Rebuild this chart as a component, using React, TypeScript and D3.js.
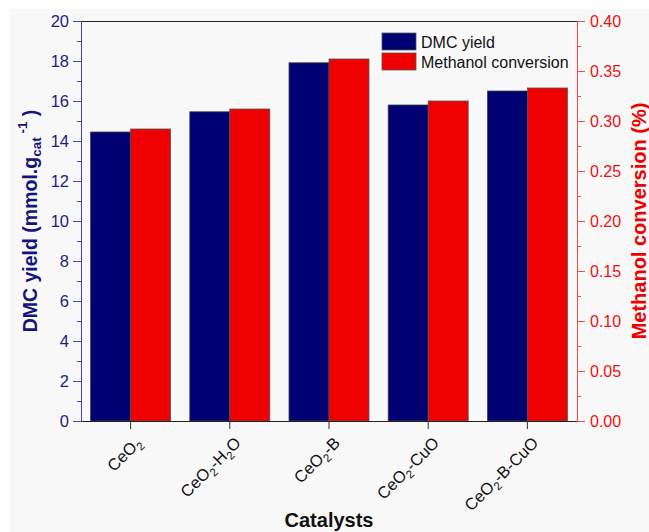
import React from "react";
import * as d3 from "d3";

// Catalyst names: digits are drawn as subscripts
const categories = ["CeO2", "CeO2-H2O", "CeO2-B", "CeO2-CuO", "CeO2-B-CuO"];
const dmcYield = [14.45, 15.46, 17.91, 15.8, 16.5];
const methanolConversion = [0.292, 0.312, 0.362, 0.32, 0.333];
const leftTicks = [0, 2, 4, 6, 8, 10, 12, 14, 16, 18, 20];
const rightTicks = [0, 0.05, 0.1, 0.15, 0.2, 0.25, 0.3, 0.35, 0.4];
const seriesKeys = ["dmc", "meoh"];
const seriesNames = ["DMC yield", "Methanol conversion"];

const W = 649;
const H = 532;
const M = { left: 81, right: 577, top: 21, bottom: 421 };
const BLUE = "#000073";
const RED = "#ee0000";
const FONT = "'Liberation Sans', Arial, sans-serif";

function chemParts(label: string) {
  const parts: { t: string; sub: boolean }[] = [];
  const re = /(\d+)|([^\d]+)/g;
  let m;
  while ((m = re.exec(label))) {
    if (m[1]) parts.push({ t: m[1], sub: true });
    else parts.push({ t: m[2], sub: false });
  }
  return parts;
}

export default function App() {
  const x = d3.scaleBand<string>().domain(categories).range([M.left, M.right]).padding(0);
  const inner = d3
    .scaleBand<string>()
    .domain(seriesKeys)
    .range([0, x.bandwidth()])
    .paddingInner(0)
    .paddingOuter(0.24);
  const yL = d3.scaleLinear().domain([0, 20]).range([M.bottom, M.top]);
  const yR = d3.scaleLinear().domain([0, 0.4]).range([M.bottom, M.top]);

  const leftMinor = d3.range(1, 20, 2);
  const rightMinor = d3.range(0.025, 0.4, 0.05);
  const midY = (M.top + M.bottom) / 2;

  return (
    <svg
      width={W}
      height={H}
      style={{ position: "absolute", left: 0, top: 0, fontFamily: FONT }}
    >
      <rect x={0} y={0} width={W} height={H} fill="#ffffff" />
      <rect x={10} y={9} width={W - 10} height={H - 9} fill="#f8f8f8" />

      {/* bars */}
      {categories.map((c, i) => (
        <g key={c}>
          <rect
            x={x(c)! + inner("dmc")!}
            y={yL(dmcYield[i])}
            width={inner.bandwidth()}
            height={yL(0) - yL(dmcYield[i])}
            fill={BLUE}
            stroke="#444"
            strokeWidth={0.8}
          />
          <rect
            x={x(c)! + inner("meoh")!}
            y={yR(methanolConversion[i])}
            width={inner.bandwidth()}
            height={yR(0) - yR(methanolConversion[i])}
            fill={RED}
            stroke="#555"
            strokeWidth={0.8}
          />
        </g>
      ))}

      {/* frame top and bottom */}
      <line x1={M.left} x2={M.right} y1={M.top + 0.5} y2={M.top + 0.5} stroke="#222" strokeWidth={1} />
      <line x1={M.left} x2={M.right} y1={M.bottom + 0.5} y2={M.bottom + 0.5} stroke="#222" strokeWidth={1} />

      {/* x axis ticks and labels */}
      {categories.map((c) => {
        const cx = x(c)! + x.bandwidth() / 2;
        const parts = chemParts(c);
        return (
          <g key={"xt" + c}>
            <line x1={cx} x2={cx} y1={M.bottom} y2={M.bottom + 8} stroke="#333" strokeWidth={1} />
            <text
              transform={`translate(${cx + 12},${M.bottom + 23}) rotate(-45)`}
              textAnchor="end"
              fontSize={16.5}
              fill="#111"
            >
              {parts.map((p, k) =>
                p.sub ? (
                  <tspan key={k} fontSize={11.5} dy={4}>
                    {p.t}
                  </tspan>
                ) : (
                  <tspan key={k} dy={k > 0 && parts[k - 1].sub ? -4 : 0}>
                    {p.t}
                  </tspan>
                )
              )}
            </text>
          </g>
        );
      })}

      {/* left axis */}
      <line x1={M.left + 0.5} x2={M.left + 0.5} y1={M.top} y2={M.bottom + 1} stroke="#4545a8" strokeWidth={1} />
      {leftTicks.map((t) => (
        <g key={"l" + t}>
          <line x1={M.left - 8} x2={M.left} y1={yL(t) + 0.5} y2={yL(t) + 0.5} stroke="#4545a8" />
          <text x={M.left - 12} y={yL(t) + 6} textAnchor="end" fontSize={16.5} fill="#1c1c86">
            {t}
          </text>
        </g>
      ))}
      {leftMinor.map((t) => (
        <line key={"lm" + t} x1={M.left - 4} x2={M.left} y1={yL(t) + 0.5} y2={yL(t) + 0.5} stroke="#4545a8" />
      ))}

      {/* right axis */}
      <line x1={M.right + 0.5} x2={M.right + 0.5} y1={M.top} y2={M.bottom + 1} stroke="#ff4444" strokeWidth={1} />
      {rightTicks.map((t) => (
        <g key={"r" + t}>
          <line x1={M.right} x2={M.right + 8} y1={yR(t) + 0.5} y2={yR(t) + 0.5} stroke="#ff4444" />
          <text x={M.right + 13} y={yR(t) + 6} textAnchor="start" fontSize={16} fill="#ee1111">
            {t.toFixed(2)}
          </text>
        </g>
      ))}
      {rightMinor.map((t) => (
        <line key={"rm" + t} x1={M.right} x2={M.right + 4} y1={yR(t) + 0.5} y2={yR(t) + 0.5} stroke="#ff4444" />
      ))}

      {/* axis titles */}
      <text
        transform={`translate(37,${midY}) rotate(-90)`}
        textAnchor="middle"
        fontSize={19.5}
        fontWeight="bold"
        fill="#14147e"
      >
        DMC yield (mmol.g
        <tspan fontSize={13.5} dy={4}>cat</tspan>
        <tspan fontSize={13.5} dy={-14}> -1</tspan>
        <tspan dy={10}> )</tspan>
      </text>
      <text
        transform={`translate(646,${midY}) rotate(-90)`}
        textAnchor="middle"
        fontSize={20}
        fontWeight="bold"
        fill="#ee0000"
      >
        Methanol conversion (%)
      </text>
      <text x={(M.left + M.right) / 2} y={527} textAnchor="middle" fontSize={20} fontWeight="bold" fill="#111">
        Catalysts
      </text>

      {/* legend */}
      {seriesNames.map((n, i) => (
        <g key={n}>
          <rect
            x={382}
            y={33 + i * 20}
            width={34}
            height={17}
            fill={i === 0 ? BLUE : RED}
            stroke="#555"
            strokeWidth={0.8}
          />
          <text x={421} y={48 + i * 19.5} fontSize={16} fill="#111">
            {n}
          </text>
        </g>
      ))}
    </svg>
  );
}
